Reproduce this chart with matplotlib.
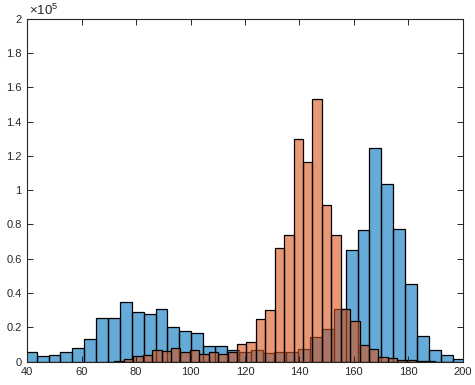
import matplotlib
matplotlib.use("Agg")
import matplotlib.pyplot as plt
import numpy as np
from matplotlib.ticker import FuncFormatter

# blue series: bins of equal width starting at blue_start
blue_start = 39.08
blue_width = 4.368
blue_counts = [5500, 3100, 3900, 5500, 7800, 13000, 25300, 25300, 34600, 28800,
               27600, 30500, 20000, 17900, 16500, 9300, 9300, 6700, 5800, 6600,
               4900, 5500, 5500, 7200, 14200, 18900, 30500, 64900, 76600, 124400,
               103400, 77200, 45100, 14800, 6600, 3700, 1400]

# orange series
orange_start = 68.56
orange_width = 3.465
orange_counts = [100, 700, 1400, 3300, 3900, 6700, 6100, 7800, 5600, 6700,
                 4400, 5500, 4400, 5500, 10100, 11300, 24700, 30000, 66100, 73700,
                 129600, 116200, 152900, 91100, 73700, 30500, 23500, 9600, 7200, 2900,
                 2000, 1000, 800, 400, 200, 100, 100]

x_ticks = [40, 60, 80, 100, 120, 140, 160, 180, 200]
y_ticks = [0, 20000, 40000, 60000, 80000, 100000, 120000, 140000, 160000, 180000, 200000]

plt.rcParams["font.family"] = ["Liberation Sans", "DejaVu Sans"]
plt.rcParams["mathtext.fontset"] = "custom"
plt.rcParams["mathtext.rm"] = "Liberation Sans"

fig = plt.figure(figsize=(4.75, 3.85), dpi=100)
ax = fig.add_axes([0.0575, 0.0605, 0.9165, 0.8912])

blue_edges = blue_start + blue_width * np.arange(len(blue_counts) + 1)
orange_edges = orange_start + orange_width * np.arange(len(orange_counts) + 1)

# faces and edges drawn separately so the blue outlines sit under the orange faces
ax.bar(blue_edges[:-1], blue_counts, width=np.diff(blue_edges), align="edge",
       color=(0.0, 0.447, 0.741), alpha=0.6, edgecolor="none")
ax.bar(blue_edges[:-1], blue_counts, width=np.diff(blue_edges), align="edge",
       facecolor="none", edgecolor="black", linewidth=0.9)
ax.bar(orange_edges[:-1], orange_counts, width=np.diff(orange_edges), align="edge",
       color=(0.85, 0.325, 0.098), alpha=0.6, edgecolor="none")
ax.bar(orange_edges[:-1], orange_counts, width=np.diff(orange_edges), align="edge",
       facecolor="none", edgecolor="black", linewidth=0.9)

ax.set_xlim(40, 200)
ax.set_ylim(0, 200000)
ax.set_xticks(x_ticks)
ax.set_yticks(y_ticks)
ax.yaxis.set_major_formatter(FuncFormatter(lambda v, p: f"{v / 1e5:g}"))

axis_col = (0.15, 0.15, 0.15)
for s in ax.spines.values():
    s.set_color(axis_col)
    s.set_linewidth(0.8)
ax.tick_params(direction="in", length=4.5, width=0.7, colors=axis_col,
               labelsize=8, top=True, right=True, pad=4)
for lab in ax.get_xticklabels() + ax.get_yticklabels():
    lab.set_color(axis_col)

ax.text(0.004, 1.002, r"$\mathregular{\times10^{5}}$", transform=ax.transAxes, fontsize=9.5,
        color=axis_col, ha="left", va="bottom")

fig.savefig("out.png", dpi=100)
